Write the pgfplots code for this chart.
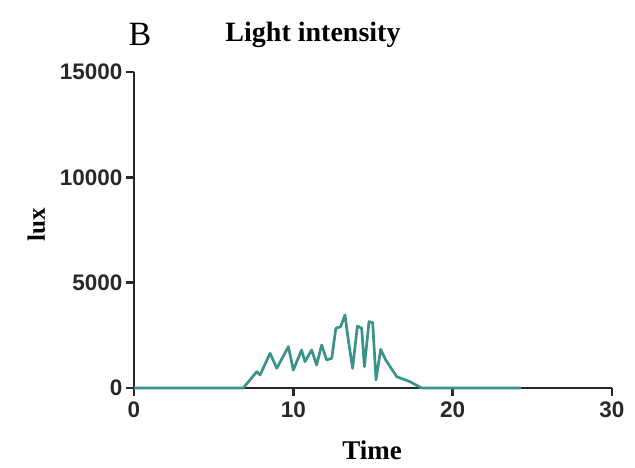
\documentclass[border=0pt]{standalone}
\usepackage{fontspec}
\setmainfont{Liberation Serif}
\newfontfamily\arial{Liberation Sans}
\usepackage{pgfplots}
\pgfplotsset{compat=1.18}
\definecolor{tealline}{RGB}{58,146,138}
\definecolor{axgray}{RGB}{40,40,40}
\begin{document}
\begin{tikzpicture}
\path[use as bounding box] (0,0) rectangle (635pt,467pt);
\begin{axis}[
  at={(134pt,79pt)}, anchor=south west,
  scale only axis, width=478pt, height=316pt,
  xmin=0, xmax=30, ymin=0, ymax=15000,
  axis x line=bottom, axis y line=left,
  axis line style={-, line width=2.8pt, axgray},
  xtick={0,10,20,30}, ytick={0,5000,10000,15000},
  tick align=outside, major tick length=8pt,
  every tick/.style={line width=2.4pt, axgray},
  scaled ticks=false,
  /pgf/number format/1000 sep={},
  /pgf/number format/assume math mode=true,
  ticklabel style={font=\arial\bfseries\fontsize{22.5}{22.5}\selectfont, text=axgray},
  xticklabel style={yshift=-2pt},
  yticklabel style={xshift=0pt},
  clip=false,
]
\addplot[tealline, line width=2.7pt, line join=round] coordinates {
(0,0) (6.86,0) (7.70,775) (7.91,617) (8.54,1650) (8.96,935) (9.69,1963)
(10.0,855) (10.52,1805) (10.73,1250) (11.15,1805) (11.46,1092) (11.78,2042)
(12.09,1330) (12.41,1410) (12.67,2835) (12.97,2910) (13.24,3468) (13.45,2280)
(13.72,935) (14.02,2945) (14.29,2835) (14.46,1013) (14.75,3150) (14.98,3103)
(15.19,380) (15.48,1838) (15.80,1330) (16.49,537) (17.32,300) (18.05,0) (24.3,0)
};
\end{axis}
\node[font=\bfseries\fontsize{27}{27}\selectfont, anchor=base] at (372pt,8pt) {Time};
\node[font=\bfseries\fontsize{25}{25}\selectfont, rotate=90, anchor=base] at (45pt,242pt) {lux};
\node[font=\bfseries\fontsize{28}{28}\selectfont, anchor=base] at (313pt,425pt) {Light intensity};
\node[font=\fontsize{34}{34}\selectfont, anchor=base] at (140pt,421pt) {B};
\end{tikzpicture}
\end{document}
